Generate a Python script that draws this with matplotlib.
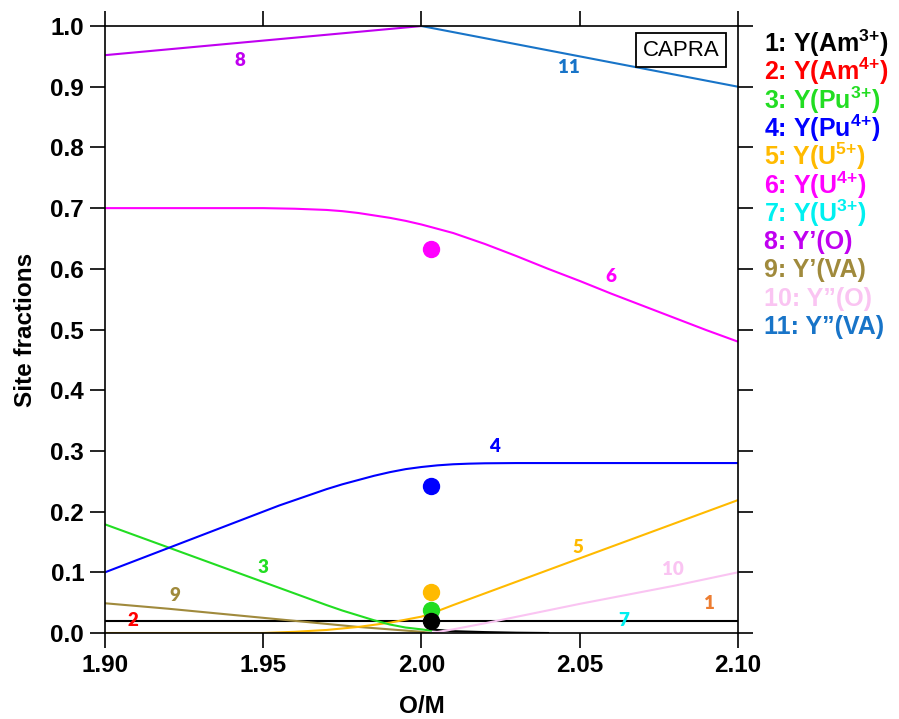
import matplotlib
matplotlib.use("Agg")
from matplotlib import pyplot as plt

plt.rcParams['font.family'] = 'Liberation Sans'
plt.rcParams['mathtext.fontset'] = 'custom'
plt.rcParams['mathtext.rm'] = 'Liberation Sans:bold'
plt.rcParams['mathtext.bf'] = 'Liberation Sans:bold'

# Y(U4+)
x_u4 = [1.90, 1.92, 1.94, 1.95, 1.96, 1.965, 1.97, 1.975, 1.98, 1.985, 1.99, 1.995, 2.00,
        2.005, 2.01, 2.015, 2.02, 2.03, 2.04, 2.05, 2.06, 2.07, 2.08, 2.09, 2.10]
y_u4 = [0.700, 0.700, 0.700, 0.700, 0.699, 0.698, 0.697, 0.695, 0.692, 0.688, 0.684, 0.679, 0.673,
        0.666, 0.659, 0.650, 0.641, 0.621, 0.600, 0.580, 0.559, 0.539, 0.519, 0.499, 0.480]

# Y(Pu4+)
x_pu4 = [1.90, 1.92, 1.94, 1.95, 1.955, 1.96, 1.965, 1.97, 1.975, 1.98, 1.985, 1.99, 1.995,
         2.00, 2.005, 2.01, 2.015, 2.02, 2.03, 2.10]
y_pu4 = [0.100, 0.140, 0.180, 0.200, 0.210, 0.219, 0.228, 0.237, 0.245, 0.252, 0.259, 0.265, 0.270,
         0.2735, 0.2762, 0.2780, 0.2790, 0.2796, 0.280, 0.280]

# Y(U5+)
x_u5 = [1.90, 1.95, 1.96, 1.97, 1.98, 1.99, 1.995, 2.00, 2.005, 2.01, 2.05, 2.10]
y_u5 = [0.0, 0.0, 0.002, 0.005, 0.010, 0.017, 0.022, 0.027, 0.036, 0.046, 0.123, 0.219]

# Y(Pu3+)
x_pu3 = [1.90, 1.95, 1.96, 1.97, 1.975, 1.98, 1.985, 1.99, 1.995, 2.00, 2.003]
y_pu3 = [0.179, 0.084, 0.065, 0.046, 0.037, 0.029, 0.021, 0.014, 0.009, 0.006, 0.004]

# Y'(VA)
x_va1 = [1.90, 1.92, 1.94, 1.96, 1.98, 2.00, 2.003]
y_va1 = [0.049, 0.040, 0.030, 0.020, 0.010, 0.002, 0.0]

# Y''(O)
x_o2 = [2.003, 2.01, 2.02, 2.05, 2.08, 2.10]
y_o2 = [0.0, 0.006, 0.016, 0.048, 0.078, 0.100]

# Y'(O)
x_o1 = [1.90, 2.00]
y_o1 = [0.952, 1.0]

# Y''(VA)
x_va2 = [2.00, 2.10]
y_va2 = [1.0, 0.90]

# Y(Am3+)
x_am3 = [1.90, 2.10]
y_am3 = [0.02, 0.02]

x_tail = [2.003, 2.01, 2.02, 2.03, 2.04]
y_tail = [0.006, 0.003, 0.0015, 0.0005, 0.0]

# CAPRA experimental points at O/M = 2.003
dot_x = 2.003
dot_vals = [0.067, 0.038, 0.020, 0.243, 0.633]
dot_cols = ['#FFBA00', '#22DD22', 'black', '#0000FF', '#FF00FF']

labels = [r'1: Y(Am$^{\text{3+}}$)', r'2: Y(Am$^{\text{4+}}$)', r'3: Y(Pu$^{\text{3+}}$)',
          r'4: Y(Pu$^{\text{4+}}$)', r'5: Y(U$^{\text{5+}}$)', r'6: Y(U$^{\text{4+}}$)',
          r'7: Y(U$^{\text{3+}}$)', '8: Y\u2019(O)', '9: Y\u2019(VA)', '10: Y\u201d(O)',
          '11: Y\u201d(VA)']
colors = ['black', '#FF0000', '#22DD22', '#0000FF', '#FFBA00', '#FF00FF',
          '#00F0F0', '#C000F0', '#A08A3C', '#FAC4F2', '#1874C8']

# curve number tags inside the plot
tag_text = ['8', '11', '6', '4', '5', '10', '1', '7', '3', '9', '2']
tag_x = [1.9426, 2.0466, 2.0598, 2.0232, 2.0494, 2.0794, 2.0911, 2.0639, 1.9498, 1.9221, 1.9088]
tag_y = [0.944, 0.931, 0.587, 0.3075, 0.1414, 0.105, 0.049, 0.021, 0.108, 0.061, 0.020]
tag_col = ['#C000F0', '#1874C8', '#FF00FF', '#0000FF', '#FFBA00', '#FAC4F2',
           '#ED7D31', '#00F0F0', '#22DD22', '#A08A3C', '#FF0000']

fig = plt.figure(figsize=(8.99, 7.19), dpi=100)
ax = fig.add_axes([0.1168, 0.1196, 0.7041, 0.8442])

lw = 1.5
ax.plot(x_am3, y_am3, color='black', lw=lw)
ax.plot(x_tail, y_tail, color='black', lw=lw)
ax.plot(x_va1, y_va1, color='#A08A3C', lw=lw)
ax.plot(x_u5, y_u5, color='#FFBA00', lw=lw)
ax.plot(x_pu3, y_pu3, color='#22DD22', lw=lw)
ax.plot(x_o2, y_o2, color='#FAC4F2', lw=lw)
ax.plot(x_pu4, y_pu4, color='#0000FF', lw=lw)
ax.plot(x_u4, y_u4, color='#FF00FF', lw=lw)
ax.plot(x_o1, y_o1, color='#C000F0', lw=lw)
ax.plot(x_va2, y_va2, color='#1874C8', lw=lw)

for v, c in zip(dot_vals, dot_cols):
    ax.plot(dot_x, v, 'o', color=c, markersize=11.5, zorder=3)

for t, x, y, c in zip(tag_text, tag_x, tag_y, tag_col):
    ax.text(x, y, t, color=c, fontsize=13.5, fontweight='heavy', family='Lato',
            ha='center', va='center')

ax.text(2.082, 0.96, 'CAPRA', fontsize=16, ha='center', va='center',
        bbox=dict(boxstyle='square,pad=0.3', fc='white', ec='black', lw=1.3))

ax.set_xlim(1.90, 2.10)
ax.set_ylim(0.0, 1.0)
ax.set_xticks([1.90, 1.95, 2.00, 2.05, 2.10])
ax.set_xticklabels(['1.90', '1.95', '2.00', '2.05', '2.10'])
ax.set_yticks([0.0, 0.1, 0.2, 0.3, 0.4, 0.5, 0.6, 0.7, 0.8, 0.9, 1.0])
ax.set_yticklabels(['0.0', '0.1', '0.2', '0.3', '0.4', '0.5', '0.6', '0.7', '0.8', '0.9', '1.0'])
ax.tick_params(direction='out', length=11, width=1.2, top=True, right=True,
               labelsize=17.5, pad=4)
for lab in ax.get_xticklabels() + ax.get_yticklabels():
    lab.set_fontweight('bold')
for s in ax.spines.values():
    s.set_linewidth(1.2)

ax.set_xlabel('O/M', fontsize=17.5, fontweight='bold')
ax.set_ylabel('Site fractions', fontsize=17.5, fontweight='bold')
ax.xaxis.set_label_coords(0.5, -0.102)
ax.yaxis.set_label_coords(-0.108, 0.5)

for i in range(len(labels)):
    ypix = 43 + 28.4 * i
    fig.text(764 / 899, 1 - ypix / 719, labels[i], color=colors[i], fontsize=18,
             fontweight='bold', ha='left', va='center')

fig.savefig('out.png', dpi=100)
